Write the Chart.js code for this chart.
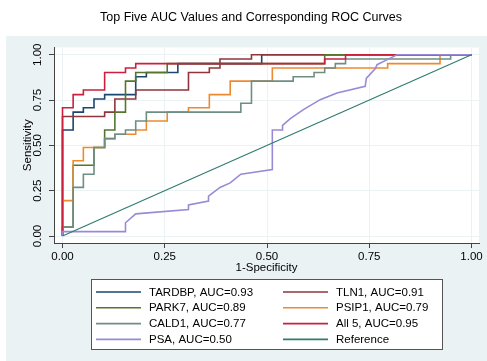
<!DOCTYPE html>
<html>
<head>
<meta charset="utf-8">
<title>ROC curves</title>
<script src="https://cdn.jsdelivr.net/npm/chart.js@4/dist/chart.umd.min.js"></script>
<style>
  html, body { margin: 0; padding: 0; background: #fff; }
  canvas { display: block; }
</style>
</head>
<body>
<canvas id="rocChart" width="487" height="361"></canvas>
<script>
// ROC points (1-specificity, sensitivity) for each marker
var tardbpX = [0, 0, .026, .026, .051, .051, .077, .077, .103, .103, .179, .179, .205, .205, .282, .282, .487, .487, 1];
var tardbpY = [0, .585, .585, .683, .683, .707, .707, .756, .756, .78, .78, .878, .878, .902, .902, .951, .951, 1, 1];

var tln1X = [0, 0, .103, .103, .128, .128, .179, .179, .308, .308, .359, .359, .385, .385, .462, .462, 1];
var tln1Y = [0, .659, .659, .683, .683, .756, .756, .805, .805, .902, .902, .927, .927, .976, .976, 1, 1];

var park7X = [0, 0, .026, .026, .077, .077, .103, .103, .128, .128, .154, .154, .179, .179, .256, .256, .641, .641, 1];
var park7Y = [0, .049, .049, .39, .39, .488, .488, .585, .585, .683, .683, .854, .854, .902, .902, .951, .951, 1, 1];

var psip1X = [0, 0, .026, .026, .051, .051, .103, .103, .128, .128, .179, .179, .205, .205, .256, .256, .308, .308, .359, .359, .41, .41, .513, .513, .795, .795, .923, .923, 1];
var psip1Y = [0, .195, .195, .415, .415, .488, .488, .537, .537, .561, .561, .585, .585, .634, .634, .683, .683, .707, .707, .78, .78, .854, .854, .927, .927, .951, .951, 1, 1];

var cald1X = [0, 0, .026, .026, .051, .051, .077, .077, .103, .103, .128, .128, .154, .154, .179, .179, .205, .205, .436, .436, .462, .462, .564, .564, .615, .615, .641, .641, .667, .667, .692, .692, .949, .949, 1];
var cald1Y = [0, .049, .049, .268, .268, .341, .341, .488, .488, .537, .537, .561, .561, .585, .585, .634, .634, .683, .683, .732, .732, .854, .854, .878, .878, .902, .902, .927, .927, .951, .951, .976, .976, 1, 1];

var all5X = [0, 0, .026, .026, .051, .051, .103, .103, .154, .154, .179, .179, .641, .641, .692, .692, 1];
var all5Y = [0, .707, .707, .78, .78, .805, .805, .902, .902, .927, .927, .951, .951, .976, .976, 1, 1];

var psaX = [0, 0, .154, .154, .179, .308, .308, .357, .357, .385, .41, .436, .513, .513, .538, .538, .557, .589, .63, .671, .74, .743, .765, .769, .794, .818, 1];
var psaY = [0, .024, .024, .073, .122, .146, .171, .193, .22, .268, .293, .341, .366, .585, .585, .61, .647, .697, .752, .789, .826, .871, .923, .945, .973, 1, 1];

var refX = [0, 1];
var refY = [0, 1];

var seriesLabels = ['TARDBP, AUC=0.93', 'TLN1, AUC=0.91', 'PARK7, AUC=0.89', 'PSIP1, AUC=0.79',
                    'CALD1, AUC=0.77', 'All 5, AUC=0.95', 'PSA, AUC=0.50', 'Reference'];
var tickValues = [0, 0.25, 0.5, 0.75, 1];
var chartTitle = 'Top Five AUC Values and Corresponding ROC Curves';

var seriesX = [tardbpX, tln1X, park7X, psip1X, cald1X, all5X, psaX, refX];
var seriesY = [tardbpY, tln1Y, park7Y, psip1Y, cald1Y, all5Y, psaY, refY];
var colors = ['#1a476f', '#90353b', '#55752f', '#ec8a30', '#6e8e84', '#cc1f3d', '#9a8ad6', '#2e7b6f'];

function toPoints(xs, ys) {
  return xs.map(function (x, i) { return { x: x, y: ys[i] }; });
}

var datasets = seriesLabels.map(function (label, i) {
  return {
    label: label,
    data: toPoints(seriesX[i], seriesY[i]),
    borderColor: colors[i],
    backgroundColor: colors[i],
    borderWidth: i === 7 ? 1.1 : 1.6,
    showLine: true,
    pointRadius: 0,
    tension: 0,
    fill: false,
    // later series sit on top
    order: seriesLabels.length - 1 - i
  };
});

var FONT = '"Liberation Sans", Arial, sans-serif';
Chart.defaults.font.family = FONT;
Chart.defaults.font.size = 11.5;
Chart.defaults.color = '#000';

// grey-blue graph region, white plot region, title on top
var backdrop = {
  id: 'backdrop',
  beforeDraw: function (chart) {
    var ctx = chart.ctx, a = chart.chartArea;
    ctx.save();
    ctx.fillStyle = '#fff';
    ctx.fillRect(0, 0, chart.width, chart.height);
    ctx.fillStyle = '#eaf2f3';
    ctx.fillRect(6, 36, chart.width - 6, chart.height - 36);
    ctx.fillStyle = '#fff';
    ctx.fillRect(a.left, a.top, a.right - a.left, a.bottom - a.top);
    ctx.font = '12.5px ' + FONT;
    ctx.fillStyle = '#000';
    ctx.textAlign = 'center';
    ctx.textBaseline = 'middle';
    ctx.fillText(chartTitle, 251, 18);
    ctx.restore();
  }
};

// two-column boxed legend under the axis
var legendBox = {
  id: 'legendBox',
  afterDraw: function (chart) {
    var ctx = chart.ctx;
    ctx.save();
    ctx.fillStyle = '#fff';
    ctx.strokeStyle = '#555';
    ctx.lineWidth = 1;
    ctx.fillRect(91.5, 279.5, 351, 70);
    ctx.strokeRect(91.5, 279.5, 351, 70);
    ctx.font = '11.5px ' + FONT;
    ctx.textBaseline = 'middle';
    ctx.fillStyle = '#000';
    chart.data.datasets.forEach(function (ds, i) {
      var col = i % 2, row = Math.floor(i / 2);
      var x0 = col ? 283 : 96;
      var y = 292 + row * 15.8;
      ctx.strokeStyle = ds.borderColor;
      ctx.lineWidth = 1.6;
      ctx.beginPath();
      ctx.moveTo(x0, y);
      ctx.lineTo(x0 + 45, y);
      ctx.stroke();
      ctx.fillText(ds.label, x0 + 53, y + 0.5);
    });
    ctx.restore();
  }
};

function setTicks(scale) {
  scale.ticks = tickValues.map(function (v) { return { value: v }; });
}

new Chart(document.getElementById('rocChart').getContext('2d'), {
  type: 'scatter',
  data: { datasets: datasets },
  options: {
    responsive: false,
    animation: false,
    devicePixelRatio: 1,
    layout: { padding: { left: 0, right: 8, top: 47.5, bottom: 82 } },
    plugins: {
      legend: { display: false },
      tooltip: { enabled: false },
      title: { display: false }
    },
    scales: {
      x: {
        type: 'linear',
        min: -0.0208,
        max: 1.0183,
        afterBuildTicks: setTicks,
        afterFit: function (s) { s.height = 36; },
        ticks: {
          padding: 2,
          callback: function (v) { return v.toFixed(2); }
        },
        grid: { color: '#eaf2f3', tickColor: '#444', tickLength: 5 },
        border: { color: '#444', width: 1 },
        title: { display: true, text: '1-Specificity', padding: { top: 0, bottom: 4 } }
      },
      y: {
        type: 'linear',
        min: -0.0386,
        max: 1.0397,
        afterBuildTicks: setTicks,
        afterFit: function (s) { s.width = 54; },
        ticks: {
          padding: 0,
          minRotation: 90,
          maxRotation: 90,
          crossAlign: 'center',
          callback: function (v) { return v.toFixed(2); }
        },
        grid: { color: '#eaf2f3', tickColor: '#444', tickLength: 5 },
        border: { color: '#444', width: 1 },
        title: { display: true, text: 'Sensitivity', padding: { top: 21, bottom: 0 } }
      }
    }
  },
  plugins: [backdrop, legendBox]
});
</script>
</body>
</html>
